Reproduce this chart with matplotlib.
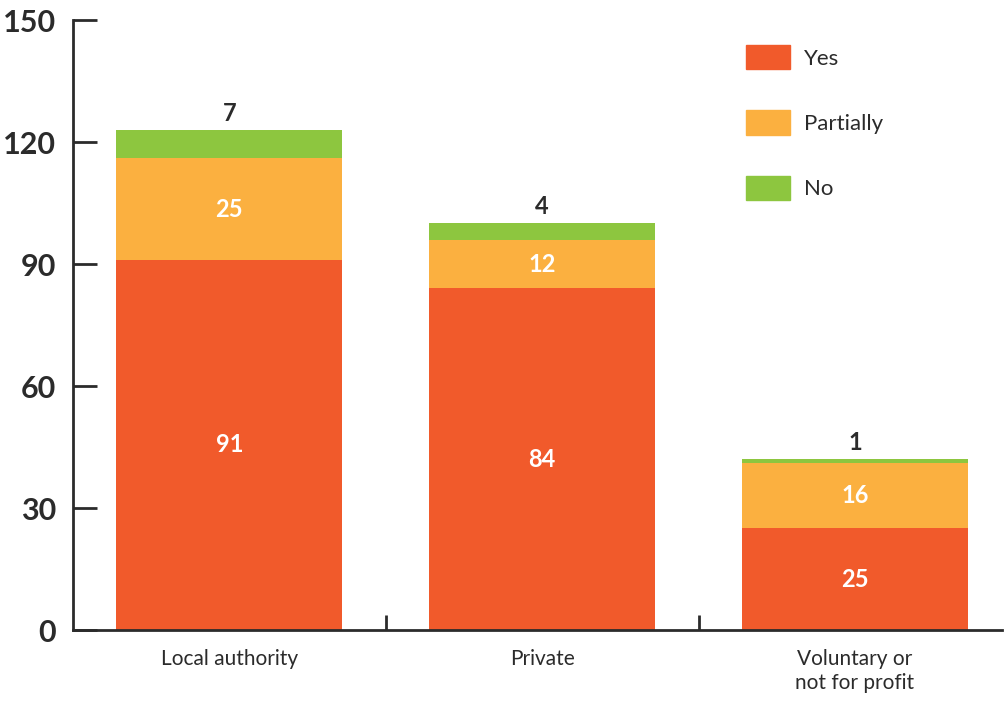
import numpy as np
import matplotlib.pyplot as plt
from matplotlib.patches import Patch

plt.rcParams['font.family'] = ['Lato', 'DejaVu Sans']

categories = ["Local authority", "Private", "Voluntary or\nnot for profit"]
yes = [91, 84, 25]
partially = [25, 12, 16]
no = [7, 4, 1]

c_yes = "#F15A2B"
c_part = "#FBB040"
c_no = "#8DC63F"
dark = "#2B2B2B"

fig = plt.figure(figsize=(10.06, 7.02), dpi=100)
ax = fig.add_axes([73 / 1006, 72 / 702, 929 / 1006, 610 / 702])

x = np.arange(len(categories))
w = 0.722
yes_a = np.array(yes)
part_a = np.array(partially)
no_a = np.array(no)

ax.bar(x, yes_a, w, color=c_yes, label="Yes")
ax.bar(x, part_a, w, bottom=yes_a, color=c_part, label="Partially")
ax.bar(x, no_a, w, bottom=yes_a + part_a, color=c_no, label="No")

for i in x:
    ax.text(i, yes_a[i] / 2, str(yes[i]), ha="center", va="center",
            color="white", fontsize=17, fontweight="bold")
    ax.text(i, yes_a[i] + part_a[i] / 2, str(partially[i]), ha="center", va="center",
            color="white", fontsize=17, fontweight="bold")
    ax.text(i, yes_a[i] + part_a[i] + no_a[i] + 1.2, str(no[i]), ha="center", va="bottom",
            color=dark, fontsize=17, fontweight="bold")

ax.set_xlim(-0.5, 2.47)
ax.set_ylim(0, 150)
ax.set_yticks([0, 30, 60, 90, 120, 150])
ax.tick_params(axis="y", direction="in", length=17, width=2, color=dark,
               labelsize=22, labelcolor=dark, pad=12)
for lbl in ax.get_yticklabels():
    lbl.set_fontweight("bold")

ax.set_xticks(x)
ax.set_xticklabels(categories)
ax.tick_params(axis="x", length=0, labelsize=15, labelcolor=dark, pad=14)
ax.set_xticks([0.5, 1.5], minor=True)
ax.tick_params(axis="x", which="minor", direction="in", length=11, width=2, color=dark)

for s in ["top", "right"]:
    ax.spines[s].set_visible(False)
for s in ["left", "bottom"]:
    ax.spines[s].set_linewidth(2)
    ax.spines[s].set_color(dark)

handles = [Patch(color=c_yes), Patch(color=c_part), Patch(color=c_no)]
fig.legend(handles, ["Yes", "Partially", "No"], loc="upper left",
           bbox_to_anchor=(746 / 1006, 1 - 45 / 702), frameon=False,
           fontsize=16, handlelength=2.0, handleheight=1.3, labelspacing=1.85,
           handletextpad=0.6, borderpad=0, borderaxespad=0, labelcolor=dark)

fig.savefig("out.png", dpi=100)
